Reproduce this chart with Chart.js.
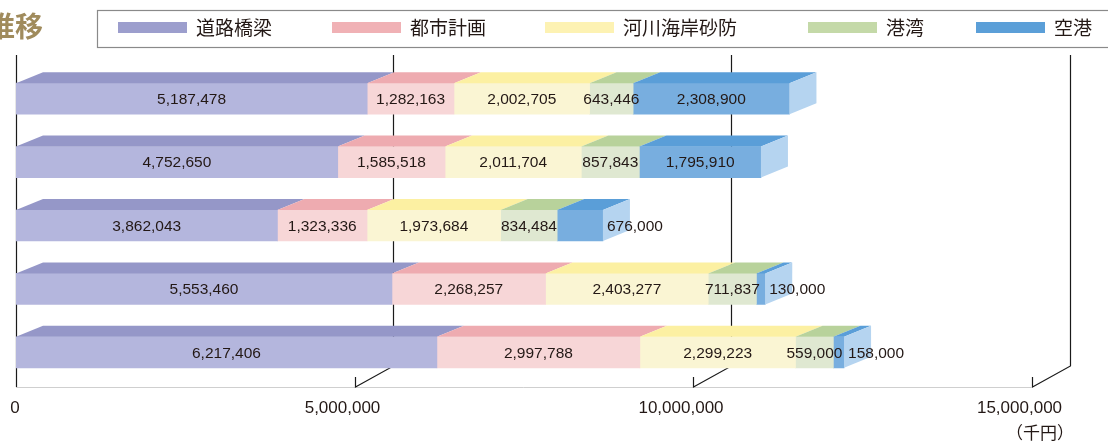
<!DOCTYPE html>
<html>
<head>
<meta charset="utf-8">
<script src="https://cdn.jsdelivr.net/npm/chart.js@4"></script>
<style>
  html, body { margin: 0; padding: 0; background: #fff; }
  #wrap { width: 1108px; height: 441px; position: relative; }
</style>
</head>
<body>
<div id="wrap"><canvas id="costChart"></canvas></div>
<script>
// row labels sit left of the visible crop, so they are only placeholders
const categories = ["1", "2", "3", "4", "5"];
const seriesNames = ["道路橋梁", "都市計画", "河川海岸砂防", "港湾", "空港"];

// values in 千円
const roadBridge = [5187478, 4752650, 3862043, 5553460, 6217406];
const cityPlanning = [1282163, 1585518, 1323336, 2268257, 2997788];
const riverCoast = [2002705, 2011704, 1973684, 2403277, 2299223];
const harbour = [643446, 857843, 834484, 711837, 559000];
const airport = [2308900, 1795910, 676000, 130000, 158000];

const xTicks = [0, 5000000, 10000000, 15000000];
const unitLabel = "（千円）";

// front / top / legend colours per series
const frontColors = ["#b4b6dd", "#f7d6d7", "#faf5d3", "#dfe8d1", "#78aedf"];
const topColors = ["#9597c8", "#eeabb0", "#fcf0a2", "#b8d29b", "#5a9ed8"];
const legendColors = ["#9c9ecd", "#f0b1b5", "#fdf2b3", "#c4d9a8", "#5b9fd8"];
const sideColor = "#b5d4f0";

const DEPTH_X = 27, DEPTH_Y = -11;   // bar depth
const GRID_X = 38, GRID_Y = -21;     // back wall offset
const TEXT = "#231815";

const seriesValues = [roadBridge, cityPlanning, riverCoast, harbour, airport];

const fmt = (v) => v.toLocaleString("en-US");

const pseudo3d = {
    id: "pseudo3d",
    beforeDatasetsDraw(chart) {
        const ctx = chart.ctx;
        const xs = chart.scales.x;
        const base = 387;
        ctx.save();
        // floor line
        ctx.strokeStyle = "#cfcfcf";
        ctx.lineWidth = 1;
        ctx.beginPath();
        ctx.moveTo(xs.getPixelForValue(0), base + 0.5);
        ctx.lineTo(xs.getPixelForValue(xTicks[xTicks.length - 1]), base + 0.5);
        ctx.stroke();

        ctx.strokeStyle = "#1a1a1a";
        ctx.lineWidth = 1.2;
        // left wall
        const x0 = Math.round(xs.getPixelForValue(0)) + 0.5;
        ctx.beginPath();
        ctx.moveTo(x0, 55);
        ctx.lineTo(x0, base);
        ctx.stroke();
        // back grid with the little floor ticks
        xTicks.slice(1).forEach((t) => {
            const xf = Math.round(xs.getPixelForValue(t)) + 0.5;
            ctx.beginPath();
            ctx.moveTo(xf, base - 10);
            ctx.lineTo(xf, base);
            ctx.lineTo(xf + GRID_X, base + GRID_Y);
            ctx.lineTo(xf + GRID_X, 55);
            ctx.stroke();
        });
        ctx.restore();
    },
    afterDatasetsDraw(chart) {
        const ctx = chart.ctx;
        const last = chart.data.datasets.length - 1;
        ctx.save();
        chart.data.datasets.forEach((ds, di) => {
            chart.getDatasetMeta(di).data.forEach((bar) => {
                const p = bar.getProps(["x", "y", "base", "height"], true);
                const top = p.y - p.height / 2;
                const bottom = p.y + p.height / 2;
                ctx.fillStyle = topColors[di];
                ctx.beginPath();
                ctx.moveTo(p.base, top);
                ctx.lineTo(p.x, top);
                ctx.lineTo(p.x + DEPTH_X, top + DEPTH_Y);
                ctx.lineTo(p.base + DEPTH_X, top + DEPTH_Y);
                ctx.closePath();
                ctx.fill();
                if (di === last) {
                    ctx.fillStyle = sideColor;
                    ctx.beginPath();
                    ctx.moveTo(p.x, top);
                    ctx.lineTo(p.x + DEPTH_X, top + DEPTH_Y);
                    ctx.lineTo(p.x + DEPTH_X, bottom + DEPTH_Y);
                    ctx.lineTo(p.x, bottom);
                    ctx.closePath();
                    ctx.fill();
                }
            });
        });
        // value labels
        ctx.font = '15.5px "Liberation Sans", Arial, sans-serif';
        ctx.fillStyle = TEXT;
        ctx.textBaseline = "middle";
        chart.data.datasets.forEach((ds, di) => {
            chart.getDatasetMeta(di).data.forEach((bar, i) => {
                const p = bar.getProps(["x", "y", "base"], true);
                const txt = fmt(ds.data[i]);
                if (di === last && p.x - p.base < 60) {
                    ctx.textAlign = "left";
                    ctx.fillText(txt, p.x + 4, p.y + 1);
                } else {
                    ctx.textAlign = "center";
                    ctx.fillText(txt, (p.x + p.base) / 2, p.y + 1);
                }
            });
        });
        ctx.restore();
    },
    afterDraw(chart) {
        const ctx = chart.ctx;
        const xs = chart.scales.x;
        ctx.save();
        // tick labels
        ctx.font = '17px "Liberation Sans", Arial, sans-serif';
        ctx.fillStyle = TEXT;
        ctx.textAlign = "center";
        ctx.textBaseline = "middle";
        xTicks.forEach((t) => {
            const off = t === 0 ? -1 : -12;
            ctx.fillText(fmt(t), xs.getPixelForValue(t) + off, 408);
        });
        ctx.font = '17px "Noto Sans CJK JP", sans-serif';
        ctx.textAlign = "right";
        ctx.fillText(unitLabel, 1074, 433);

        // title fragment
        ctx.font = 'bold 28px "Noto Sans CJK JP", sans-serif';
        ctx.fillStyle = "#a08b5c";
        ctx.textAlign = "right";
        ctx.fillText("推移", 43, 26);

        // legend box
        ctx.strokeStyle = "#8a8a8a";
        ctx.lineWidth = 1.2;
        ctx.strokeRect(97.5, 10.5, 1030, 37);
        const swatchX = [118, 332, 545, 808, 976];
        ctx.font = '19px "Noto Sans CJK JP", sans-serif';
        ctx.textAlign = "left";
        chart.data.datasets.forEach((ds, di) => {
            ctx.fillStyle = legendColors[di];
            ctx.fillRect(swatchX[di], 22, 69, 11);
            ctx.fillStyle = TEXT;
            ctx.fillText(ds.label, swatchX[di] + 78, 28);
        });
        ctx.restore();
    },
};

const costConfig = {
    type: "bar",
    data: {
        labels: categories,
        datasets: seriesNames.map((name, i) => ({
            label: name,
            data: seriesValues[i],
            backgroundColor: frontColors[i],
            borderWidth: 0,
            barThickness: 31,
        })),
    },
    options: {
        indexAxis: "y",
        responsive: true,
        maintainAspectRatio: false,
        animation: false,
        layout: {
            padding: { left: 16, right: 76.5, top: 67, bottom: 57 },
        },
        scales: {
            x: { stacked: true, min: 0, max: 15000000, display: false },
            y: { stacked: true, display: false },
        },
        plugins: {
            legend: { display: false },
            tooltip: { enabled: false },
        },
    },
    plugins: [pseudo3d],
};

window.costChart = new Chart(document.getElementById("costChart"), costConfig);
</script>
</body>
</html>
